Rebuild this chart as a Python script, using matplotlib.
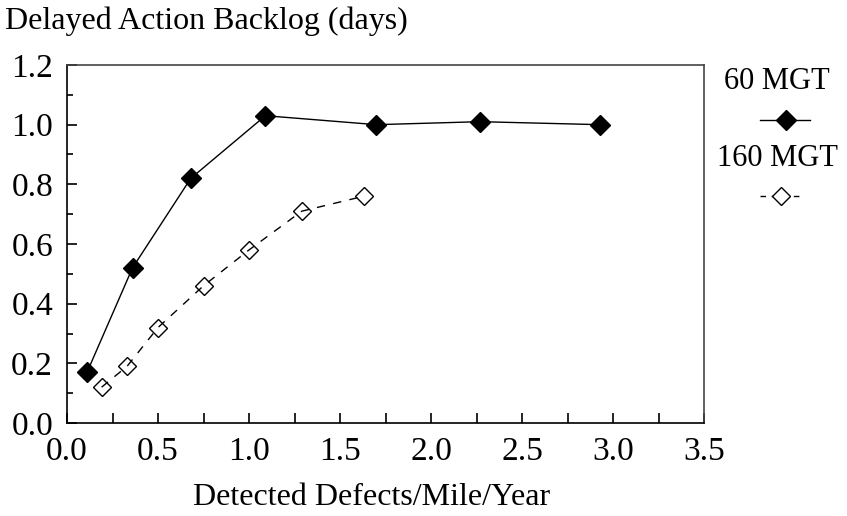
import matplotlib
matplotlib.use("Agg")
import matplotlib.pyplot as plt
from matplotlib.lines import Line2D
from matplotlib.ticker import MultipleLocator

plt.rcParams['font.family'] = ['Liberation Serif', 'DejaVu Serif']

# data
x_60 = [0.11, 0.36, 0.68, 1.09, 1.70, 2.27, 2.93]
y_60 = [0.17, 0.52, 0.82, 1.03, 1.00, 1.01, 1.00]
x_160 = [0.19, 0.33, 0.50, 0.75, 1.00, 1.29, 1.63]
y_160 = [0.12, 0.19, 0.32, 0.46, 0.58, 0.71, 0.76]
labels = ["60 MGT", "160 MGT"]

fig = plt.figure(figsize=(8.47, 5.16), dpi=100)
ax = fig.add_axes([67/847, 1-423/516, 637/847, 358/516])

ax.plot(x_60, y_60, color='black', lw=1.0, marker='D', ms=10.5,
        mfc='black', mec='black')
ax.plot(x_160, y_160, color='black', lw=1.0, ls=(0, (6, 6)), marker='D', ms=9.5,
        mfc='none', mec='black', mew=1.0)

ax.set_xlim(0, 3.5)
ax.set_ylim(0, 1.2)
ax.xaxis.set_major_locator(MultipleLocator(0.5))
ax.xaxis.set_minor_locator(MultipleLocator(0.25))
ax.yaxis.set_major_locator(MultipleLocator(0.2))
ax.yaxis.set_minor_locator(MultipleLocator(0.1))
ax.xaxis.set_major_formatter(plt.FormatStrFormatter('%.1f'))
ax.yaxis.set_major_formatter(plt.FormatStrFormatter('%.1f'))
ax.tick_params(which='both', direction='in', top=False, right=False, width=1.2)
ax.tick_params(axis='x', which='both', length=7, labelsize=24, pad=10)
ax.tick_params(axis='y', which='major', length=7, labelsize=24, pad=10)
ax.tick_params(axis='y', which='minor', length=4)
for s in ax.spines.values():
    s.set_linewidth(1.2)
ax.spines['top'].set_color('#444444')
ax.spines['right'].set_color('#444444')

ax.set_xlabel("Detected Defects/Mile/Year", fontsize=23, va='baseline')
ax.xaxis.set_label_coords((372-67)/637, (423-505)/358)
fig.text(5/847, 1-29/516, "Delayed Action Backlog (days)", fontsize=23, va='baseline', ha='left')

# legend on the right, label above sample
fig.text(777/847, 1-81/516, labels[0], fontsize=22, ha='center', va='center')
fig.add_artist(Line2D([760/847, 810/847], [1-120/516, 1-120/516], color='black', lw=1.0,
                      transform=fig.transFigure))
fig.add_artist(Line2D([786/847], [1-120/516], marker='D', ms=10.5, color='black',
                      transform=fig.transFigure))
fig.text(777/847, 1-159/516, labels[1], fontsize=22, ha='center', va='center')
fig.add_artist(Line2D([760/847, 803/847], [1-196/516, 1-196/516], color='black', lw=1.0,
                      ls=(0, (4, 4)), transform=fig.transFigure))
fig.add_artist(Line2D([781/847], [1-196/516], marker='D', ms=9.5, mfc='white', mec='black',
                      transform=fig.transFigure))

fig.savefig("out.png", dpi=100)
